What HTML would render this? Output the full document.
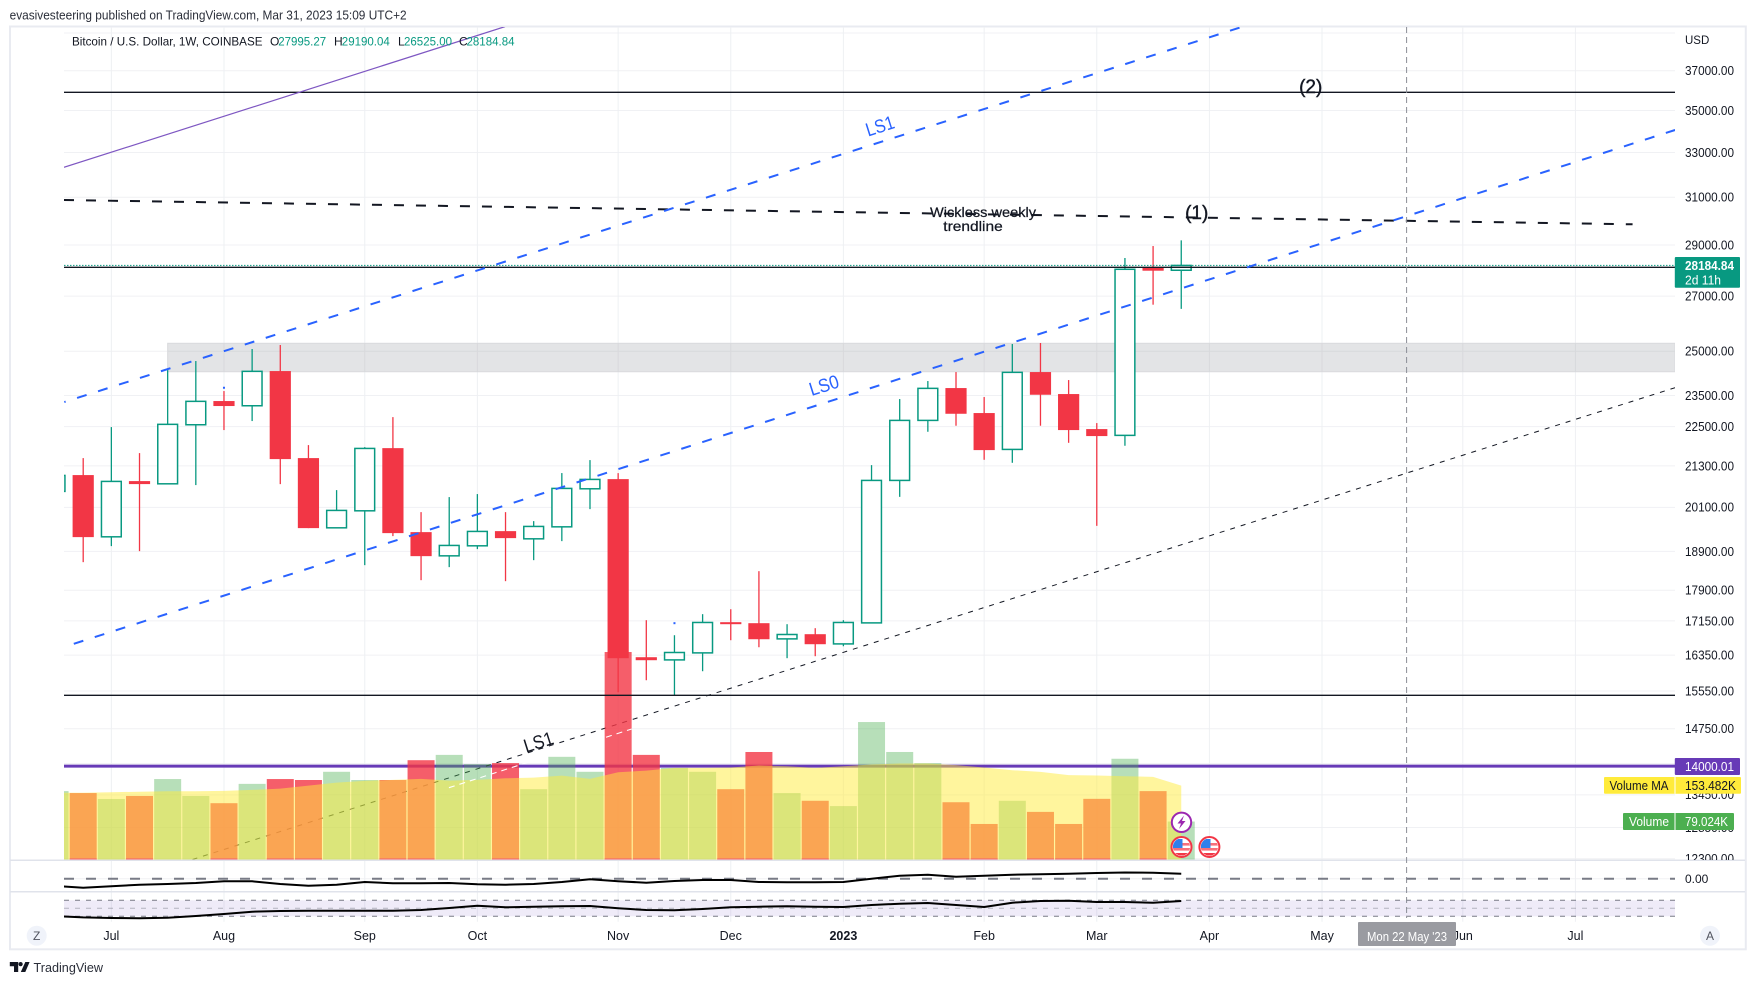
<!DOCTYPE html>
<html lang="en">
<head>
<meta charset="utf-8">
<title>Bitcoin / U.S. Dollar weekly chart</title>
<style>
html,body{margin:0;padding:0;background:#fff;overflow:hidden}
svg{display:block;font-family:"Liberation Sans",sans-serif}
text{fill:#131722}
</style>
</head>
<body>
<svg id="chart" xmlns="http://www.w3.org/2000/svg" width="1755" height="985" viewBox="0 0 1755 985">
  <defs>
    <clipPath id="main-clip"><rect x="64" y="27" width="1611" height="833"/></clipPath>
    <clipPath id="axis-clip"><rect x="1676" y="27" width="68" height="833"/></clipPath>
    <clipPath id="pane-clip"><rect x="64" y="27" width="1611" height="895"/></clipPath>
    <clipPath id="flag-clip-a"><circle cx="1181.5" cy="847" r="8.6"/></clipPath>
    <clipPath id="flag-clip-b"><circle cx="1209.4" cy="847" r="8.6"/></clipPath>
  </defs>

  <text x="9.6" y="19.5" font-size="12.5" textLength="397" lengthAdjust="spacingAndGlyphs" style="fill:#2a2e39">evasivesteering published on TradingView.com, Mar 31, 2023 15:09 UTC+2</text>

  <rect x="10" y="26.5" width="1735.8" height="922.8" fill="#fff" stroke="#e9ebf1" stroke-width="2"/>

  <g id="grid-layer"></g>
  <g id="under-layer" clip-path="url(#main-clip)"></g>
  <g id="volume-layer" clip-path="url(#main-clip)"></g>
  <g id="candle-layer" clip-path="url(#main-clip)"></g>
  <g id="over-layer" clip-path="url(#main-clip)"></g>
  <g id="pane-layer" clip-path="url(#pane-clip)"></g>

  <line x1="10" x2="1745" y1="860.3" y2="860.3" stroke="#e0e3eb" stroke-width="1.5"/>
  <line x1="10" x2="1745" y1="891.7" y2="891.7" stroke="#e0e3eb" stroke-width="1.5"/>

  <line x1="1406.6" x2="1406.6" y1="27" y2="918" stroke="#8a8d96" stroke-width="1" stroke-dasharray="6 4"/>

  <text x="72" y="45.7" font-size="12" textLength="190.5" lengthAdjust="spacingAndGlyphs">Bitcoin / U.S. Dollar, 1W, COINBASE</text>
  <text x="270" y="45.7" font-size="12">O</text>
  <text x="278.2" y="45.7" font-size="12" textLength="48" lengthAdjust="spacingAndGlyphs" style="fill:#089981">27995.27</text>
  <text x="334" y="45.7" font-size="12">H</text>
  <text x="341.8" y="45.7" font-size="12" textLength="48" lengthAdjust="spacingAndGlyphs" style="fill:#089981">29190.04</text>
  <text x="398" y="45.7" font-size="12">L</text>
  <text x="404" y="45.7" font-size="12" textLength="48" lengthAdjust="spacingAndGlyphs" style="fill:#089981">26525.00</text>
  <text x="459" y="45.7" font-size="12">C</text>
  <text x="466.5" y="45.7" font-size="12" textLength="48" lengthAdjust="spacingAndGlyphs" style="fill:#089981">28184.84</text>

  <text x="880" y="132.5" font-size="19" text-anchor="middle" textLength="29" lengthAdjust="spacingAndGlyphs" transform="rotate(-17.6 880 126)" style="fill:#2962ff">LS1</text>
  <text x="824" y="391.8" font-size="19" text-anchor="middle" textLength="30" lengthAdjust="spacingAndGlyphs" transform="rotate(-17.6 824 385.3)" style="fill:#2962ff">LS0</text>
  <text x="538.5" y="748.5" font-size="19" text-anchor="middle" textLength="30" lengthAdjust="spacingAndGlyphs" transform="rotate(-17.6 538.5 742)">LS1</text>
  <text x="1310.7" y="93" font-size="19" text-anchor="middle" style="stroke:#131722;stroke-width:.4">(2)</text>
  <text x="1196.7" y="219" font-size="19" text-anchor="middle" style="stroke:#131722;stroke-width:.4">(1)</text>
  <text x="930" y="217" font-size="14" textLength="106" lengthAdjust="spacingAndGlyphs" style="stroke:#131722;stroke-width:.25">Wickless weekly</text>
  <text x="943.3" y="231" font-size="14" textLength="59.4" lengthAdjust="spacingAndGlyphs" style="stroke:#131722;stroke-width:.25">trendline</text>

  <g id="axis-layer"></g>
  <text x="1685" y="44" font-size="11.5">USD</text>
  <text x="1685" y="883" font-size="12">0.00</text>

  <g>
    <rect x="1674.8" y="257" width="65.2" height="30.7" rx="1" fill="#089981"/>
    <text x="1685" y="270" font-size="12.5" font-weight="bold" textLength="49" lengthAdjust="spacingAndGlyphs" style="fill:#fff">28184.84</text>
    <text x="1685" y="284.5" font-size="12.5" textLength="36" lengthAdjust="spacingAndGlyphs" style="fill:#fff">2d 11h</text>
  </g>
  <g>
    <rect x="1674.8" y="758" width="65.2" height="17" rx="1" fill="#673ab7"/>
    <text x="1685" y="771" font-size="12.5" textLength="49" lengthAdjust="spacingAndGlyphs" style="fill:#fff">14000.01</text>
  </g>
  <g>
    <rect x="1604" y="777" width="137" height="16.7" rx="1" fill="#ffeb3b"/>
    <line x1="1675" x2="1675" y1="777" y2="793.7" stroke="#fff" stroke-width="1"/>
    <text x="1609.5" y="790" font-size="12.5" textLength="59" lengthAdjust="spacingAndGlyphs">Volume MA</text>
    <text x="1685" y="790" font-size="12.5" textLength="51" lengthAdjust="spacingAndGlyphs">153.482K</text>
  </g>
  <g>
    <rect x="1623" y="813" width="111" height="17" rx="1" fill="#4caf50"/>
    <line x1="1675" x2="1675" y1="813" y2="830" stroke="#fff" stroke-width="1"/>
    <text x="1629" y="826" font-size="12.5" textLength="40" lengthAdjust="spacingAndGlyphs" style="fill:#fff">Volume</text>
    <text x="1685" y="826" font-size="12.5" textLength="43" lengthAdjust="spacingAndGlyphs" style="fill:#fff">79.024K</text>
  </g>

  <g id="time-layer"></g>
  <g>
    <rect x="1358" y="922" width="98" height="24" rx="1" fill="#9a9ba1"/>
    <text x="1407" y="941" font-size="12.5" text-anchor="middle" textLength="80" lengthAdjust="spacingAndGlyphs" style="fill:#fff">Mon 22 May '23</text>
  </g>

  <g>
    <circle cx="36.7" cy="935.7" r="10" fill="#f0f3fa"/>
    <text x="36.7" y="940" font-size="12" text-anchor="middle" style="fill:#50535e">Z</text>
  </g>
  <g>
    <circle cx="1710" cy="935.7" r="10" fill="#f0f3fa"/>
    <text x="1710" y="940" font-size="12" text-anchor="middle" style="fill:#50535e">A</text>
  </g>

  <g>
    <circle cx="1181.5" cy="822.3" r="9.7" fill="#fff" stroke="#9c27b0" stroke-width="2"/>
    <polygon points="1184,815.5 1177.5,823.5 1181,823.5 1179,829 1185.5,821 1182,821" fill="#9c27b0"/>
  </g>
  <g>
    <circle cx="1181.5" cy="847" r="10" fill="#fff" stroke="#f23645" stroke-width="2"/>
    <g clip-path="url(#flag-clip-a)">
      <rect x="1172" y="843" width="20" height="2.6" fill="#f7707b"/>
      <rect x="1172" y="848" width="20" height="2.6" fill="#f7707b"/>
      <rect x="1172" y="853" width="20" height="2.6" fill="#f23645"/>
      <rect x="1173" y="839" width="9.5" height="9" fill="#2f80ed"/>
    </g>
  </g>
  <g>
    <circle cx="1209.4" cy="847" r="10" fill="#fff" stroke="#f23645" stroke-width="2"/>
    <g clip-path="url(#flag-clip-b)">
      <rect x="1200" y="843" width="20" height="2.6" fill="#f7707b"/>
      <rect x="1200" y="848" width="20" height="2.6" fill="#f7707b"/>
      <rect x="1200" y="853" width="20" height="2.6" fill="#f23645"/>
      <rect x="1201" y="839" width="9.5" height="9" fill="#2f80ed"/>
    </g>
  </g>

  <g>
    <polygon points="9.8,962 18.2,962 18.2,972 14,972 14,966.2 9.8,966.2" fill="#131722"/>
    <circle cx="20.6" cy="964.1" r="2.1" fill="#131722"/>
    <polygon points="25.3,962 29.6,962 25.3,972 20.8,972" fill="#131722"/>
    <text x="33.5" y="972" font-size="13" textLength="69.5" lengthAdjust="spacingAndGlyphs" style="fill:#2a2e39">TradingView</text>
  </g>

<script>
// ---- Categories: week-start dates (first one sits partly off the left edge) ----
const weekStarts = ["2022-06-20","2022-06-27","2022-07-04","2022-07-11","2022-07-18","2022-07-25","2022-08-01","2022-08-08","2022-08-15","2022-08-22","2022-08-29","2022-09-05","2022-09-12","2022-09-19","2022-09-26","2022-10-03","2022-10-10","2022-10-17","2022-10-24","2022-10-31","2022-11-07","2022-11-14","2022-11-21","2022-11-28","2022-12-05","2022-12-12","2022-12-19","2022-12-26","2023-01-02","2023-01-09","2023-01-16","2023-01-23","2023-01-30","2023-02-06","2023-02-13","2023-02-20","2023-02-27","2023-03-06","2023-03-13","2023-03-20","2023-03-27"];
const firstBar = -1;

// ---- OHLC series (USD) ----
const opens  = [20553,21027,19289,20851,20772,22559,23319,23166,24317,21532,19533,20003,21834,19416,18783,19048,19443,19235,19560,20628,20909,16302,16241,16401,17120,17096,16725,16835,16608,17103,20871,22697,23746,22931,21795,24283,23548,22423,22227,28095,27995.27];
const highs  = [21100,21532,22486,21683,24351,24660,23647,25077,25218,21927,20590,21864,22801,19966,20390,20476,19966,19717,21086,21472,21086,17168,16811,17313,17433,18385,17072,16977,17168,21323,23384,23980,24283,23450,25253,25289,24013,22612,28479,28959,29190.04];
const lows   = [20400,18618,19040,18907,20764,20735,22392,22676,20764,19525,19533,18540,19308,18155,18489,18960,18130,18670,19173,20050,15523,15786,15458,15986,16694,16531,16280,16325,16554,17103,20397,22339,22528,21481,21391,22528,21997,19587,21906,26680,26525];
const closes = [21017,19281,20842,20764,22572,23309,23157,24307,21502,19525,20014,21825,19389,18775,19058,19435,19254,19571,20639,20900,16280,16234,16410,17113,17072,16717,16828,16601,17113,20871,22697,23736,22908,21774,24273,23525,22392,22205,28033,27978,28184.84];

// ---- Volume (thousands) and its moving average ----
const volumes  = [142,138,125.7,132,167,132,117,157,167,165,182,165,165,206,217,198,200,146,213,182,430,217,190,182,146,223,138,122,111,285,223,200,119,74,122,99,74,126,209,142,79.024];
const volumeMA = [138.7,138.7,139.6,140.8,141.7,141.7,142.4,144.5,147.2,153.4,159.6,163.2,165.2,167.3,163.8,165.2,168.6,169.9,174,167.3,181,184.4,190,190,190.9,195,193.6,190,193.6,197.1,199.2,199.2,195.7,190.9,185.3,181.8,175,174.3,172.9,171.5,153.482];

// ---- Indicator panes ----
const momentum = [-730,-900,-760,-600,-530,-430,-260,-260,-530,-700,-600,-330,-460,-460,-430,-560,-600,-530,-330,-60,-260,-400,-230,-130,-130,-330,-360,-360,-330,0,300,400,200,300,400,440,500,570,620,600,500];
const rsi      = [30.7,27.4,25.7,25,26.5,30.7,35.7,41.5,43.2,44,44,44,44,45.7,50.7,56.5,52.5,54,55,55.7,50,45.7,45,48.2,52.5,54,55,54,53.2,58.2,61.5,63.2,58.2,53.2,64,68.2,69,65.7,65.7,64,68.2];
const rsiBands = [70,50,30];

// ---- Axis ticks ----
const priceTicks = [37000,35000,33000,31000,29000,27000,25000,23500,22500,21300,20100,18900,17900,17150,16350,15550,14750,14050,13450,12850,12300];
const gridOnlyPrices = [39000];
const monthLabels = ["Jul","Aug","Sep","Oct","Nov","Dec","2023","Feb","Mar","Apr","May","Jun","Jul"];
const monthBars   = [1,5,10,14,19,23,27,32,36,40,44,49,53];

// ---- Horizontal levels (USD) and zone ----
const levelTop = 35900;
const levelMid = 28111;
const levelLow = 15457;
const levelPurple = 14000.01;
const lastClose = 28184.84;
const zoneHigh = 25279;
const zoneLow = 24294;
const zoneStartBar = 3;

// ---- Trendline anchors: [bar, price, bar, price] ----
const purpleTrend = [-0.682,32327,14.98,39349];
const wicklessTrend = [-0.682,30883,55.03,29852];
const ls1Upper = [-0.671,23287,41.09,39301];
const ls0Lower = [-0.412,16594,56.54,34057];
const ls1Thin = [3.882,12288,56.54,23759];
const whiteTrend = [12.99,13585,19.48,14746];

// ---- Small event dots: bar index and price ----
const dotBars = [5,21];
const dotPrices = [23756,17096];

// ---- Axis functions ----
function xOfBar(i){ return 83.2 + 28.155 * i; }
function yOfPrice(p){ return 197.3 + 715.6 * Math.log(31000 / p); }
function yOfVolume(v){ return 859.7 - 0.483 * v; }
function yOfMomentum(v){ return 878.7 - 0.01 * v; }
function yOfRsi(v){ return 908.3 - 0.4 * (v - 50); }

const NS = "http://www.w3.org/2000/svg";
function mk(parent, tag, attrs){
  const el = document.createElementNS(NS, tag);
  for (const k in attrs) el.setAttribute(k, attrs[k]);
  parent.appendChild(el);
  return el;
}
const grid = document.getElementById("grid-layer");
const under = document.getElementById("under-layer");
const volLayer = document.getElementById("volume-layer");
const candleLayer = document.getElementById("candle-layer");
const over = document.getElementById("over-layer");
const paneLayer = document.getElementById("pane-layer");
const axisLayer = document.getElementById("axis-layer");
const timeLayer = document.getElementById("time-layer");
const axisGroup = mk(axisLayer, "g", {"clip-path":"url(#axis-clip)"});



// Grid and axis labels
priceTicks.concat(gridOnlyPrices).forEach(function(p){
  const y = yOfPrice(p);
  const g = mk(grid, "line", {x1:64, x2:1675, y1:y, y2:y, stroke:"#f0f1f4", "stroke-width":1});
  
  
});
priceTicks.forEach(function(p){
  const t = mk(axisGroup, "text", {x:1685, y:yOfPrice(p) + 4.4, "font-size":12.5, textLength:49, lengthAdjust:"spacingAndGlyphs"});
  t.textContent = p.toFixed(2);
  
  
});
const zeroGrid = mk(grid, "line", {x1:64, x2:1675, y1:yOfMomentum(0), y2:yOfMomentum(0), stroke:"#f0f1f4", "stroke-width":1});


monthBars.forEach(function(b, k){
  const x = xOfBar(b);
  const g = mk(grid, "line", {x1:x, x2:x, y1:27, y2:921.7, stroke:"#eef0f3", "stroke-width":1});
  
  
  const attrs = {x:x, y:940, "font-size":12.5, "text-anchor":"middle"};
  if (monthLabels[k] === "2023") attrs["font-weight"] = "bold";
  const t = mk(timeLayer, "text", attrs);
  t.textContent = monthLabels[k];
  
  
});

// Zone
const zoneEl = mk(under, "rect", {x:xOfBar(zoneStartBar), y:yOfPrice(zoneHigh), width:1675 - xOfBar(zoneStartBar), height:yOfPrice(zoneLow) - yOfPrice(zoneHigh), fill:"#e3e4e6", stroke:"#d9dadd", "stroke-width":1});


monthBars.concat([]).forEach(function(b){
  const x = xOfBar(b);
  if (x > xOfBar(zoneStartBar)) {
    const l = mk(under, "line", {x1:x, x2:x, y1:yOfPrice(zoneHigh), y2:yOfPrice(zoneLow), stroke:"#d8d9dc", "stroke-width":1});
    
    
  }
});
const zoneGrid = mk(under, "line", {x1:xOfBar(zoneStartBar), x2:1675, y1:yOfPrice(25000), y2:yOfPrice(25000), stroke:"#d8d9dc", "stroke-width":1});



function trendAttrs(a, extra){
  const o = {x1:xOfBar(a[0]), y1:yOfPrice(a[1]), x2:xOfBar(a[2]), y2:yOfPrice(a[3]), fill:"none"};
  for (const k in extra) o[k] = extra[k];
  return o;
}
function hAttrs(p, extra){
  const o = {x1:64, x2:1675, y1:yOfPrice(p), y2:yOfPrice(p)};
  for (const k in extra) o[k] = extra[k];
  return o;
}

// Below the volume overlay
const purpleLevel = mk(under, "line", hAttrs(levelPurple, {stroke:"#673ab7", "stroke-width":3}));


const thinLine = mk(under, "line", trendAttrs(ls1Thin, {stroke:"#131722", "stroke-width":1, "stroke-dasharray":"5 6"}));



// Volume bars
volumes.forEach(function(v, k){
  const up = closes[k] >= opens[k];
  const cx = xOfBar(k + firstBar);
  const top = yOfVolume(v);
  const bar = mk(volLayer, "rect", {x:cx - 13.5, y:top, width:27, height:yOfVolume(0) - top, fill:up ? "#4caf50" : "#f23645", "fill-opacity":up ? 0.4 : 0.8});
  
  
});
// Volume moving-average area
let maPts = xOfBar(firstBar) + "," + yOfVolume(0);
volumeMA.forEach(function(v, k){
  maPts += " " + xOfBar(k + firstBar) + "," + yOfVolume(v);
});
maPts += " " + xOfBar(volumeMA.length - 1 + firstBar) + "," + yOfVolume(0);
const maArea = mk(volLayer, "polygon", {points:maPts, fill:"#ffeb3b", "fill-opacity":0.5});


volumes.forEach(function(v, k){
  if (closes[k] < opens[k]) {
    const cx = xOfBar(k + firstBar);
    const base = mk(volLayer, "rect", {x:cx - 13.5, y:yOfVolume(0) - 1.2, width:27, height:1.2, fill:"#f4606c"});
    
    
  }
});
const whiteLine = mk(volLayer, "line", trendAttrs(whiteTrend, {stroke:"#fff", "stroke-width":1.1, "stroke-dasharray":"6 5"}));



// Candles
opens.forEach(function(o, k){
  const c = closes[k];
  const up = c >= o;
  const color = up ? "#089981" : "#f23645";
  const cx = xOfBar(k + firstBar);
  const yTop = yOfPrice(Math.max(o, c));
  const yBot = yOfPrice(Math.min(o, c));
  const group = mk(candleLayer, "g", {});
  
  
  const wick = mk(group, "line", {x1:cx, x2:cx, y1:yOfPrice(highs[k]), y2:yOfPrice(lows[k]), stroke:color, "stroke-width":1.3});
  
  
  const body = up
    ? mk(group, "rect", {x:cx - 9.9, y:yTop, width:19.8, height:yBot - yTop, fill:"#fff", stroke:color, "stroke-width":1.5})
    : mk(group, "rect", {x:cx - 10.6, y:yTop, width:21.2, height:yBot - yTop, fill:color});
  
  
});

// Above the candles
const lineTop = mk(over, "line", hAttrs(levelTop, {stroke:"#131722", "stroke-width":1.4}));


const lineMid = mk(over, "line", hAttrs(levelMid, {stroke:"#131722", "stroke-width":1.4}));


const lineLow = mk(over, "line", hAttrs(levelLow, {stroke:"#131722", "stroke-width":1.4}));


const priceLine = mk(over, "line", hAttrs(lastClose, {stroke:"#089981", "stroke-width":1, "stroke-dasharray":"1.5 1.5"}));


const purpleLine = mk(over, "line", trendAttrs(purpleTrend, {stroke:"#7e57c2", "stroke-width":1.2}));


const wickless = mk(over, "line", trendAttrs(wicklessTrend, {stroke:"#131722", "stroke-width":2, "stroke-dasharray":"10 12"}));


const blueUpper = mk(over, "line", trendAttrs(ls1Upper, {stroke:"#2962ff", "stroke-width":2, "stroke-dasharray":"10 12", "stroke-dashoffset":8.6}));


const blueLower = mk(over, "line", trendAttrs(ls0Lower, {stroke:"#2962ff", "stroke-width":2, "stroke-dasharray":"10 12", "stroke-dashoffset":19.7}));


dotBars.forEach(function(b, k){
  const d = mk(over, "rect", {x:xOfBar(b) - 1, y:yOfPrice(dotPrices[k]) - 1, width:2, height:2, fill:"#2962ff"});
  
  
});

// Momentum pane
const zeroDash = mk(paneLayer, "line", {x1:64, x2:1675, y1:yOfMomentum(0), y2:yOfMomentum(0), stroke:"#787b86", "stroke-width":2, "stroke-dasharray":"10 12"});


const momentumPts = momentum.map(function(v, k){ return xOfBar(k + firstBar) + "," + yOfMomentum(v); }).join(" ");
const momentumLine = mk(paneLayer, "polyline", {points:momentumPts, fill:"none", stroke:"#000", "stroke-width":2, "stroke-linejoin":"round"});



// RSI pane
const band = mk(paneLayer, "rect", {x:64, y:yOfRsi(rsiBands[0]), width:1611, height:yOfRsi(rsiBands[2]) - yOfRsi(rsiBands[0]), fill:"#7e57c2", "fill-opacity":0.12});


rsiBands.forEach(function(v, k){
  const l = mk(paneLayer, "line", {x1:64, x2:1675, y1:yOfRsi(v), y2:yOfRsi(v), stroke:"#787b86", "stroke-opacity":k === 1 ? 0.5 : 1, "stroke-width":1, "stroke-dasharray":"5 6"});
  
  
});
const rsiPts = rsi.map(function(v, k){ return xOfBar(k + firstBar) + "," + yOfRsi(v); }).join(" ");
const rsiLine = mk(paneLayer, "polyline", {points:rsiPts, fill:"none", stroke:"#000", "stroke-width":2, "stroke-linejoin":"round"});


</script>
</svg>
</body>
</html>
